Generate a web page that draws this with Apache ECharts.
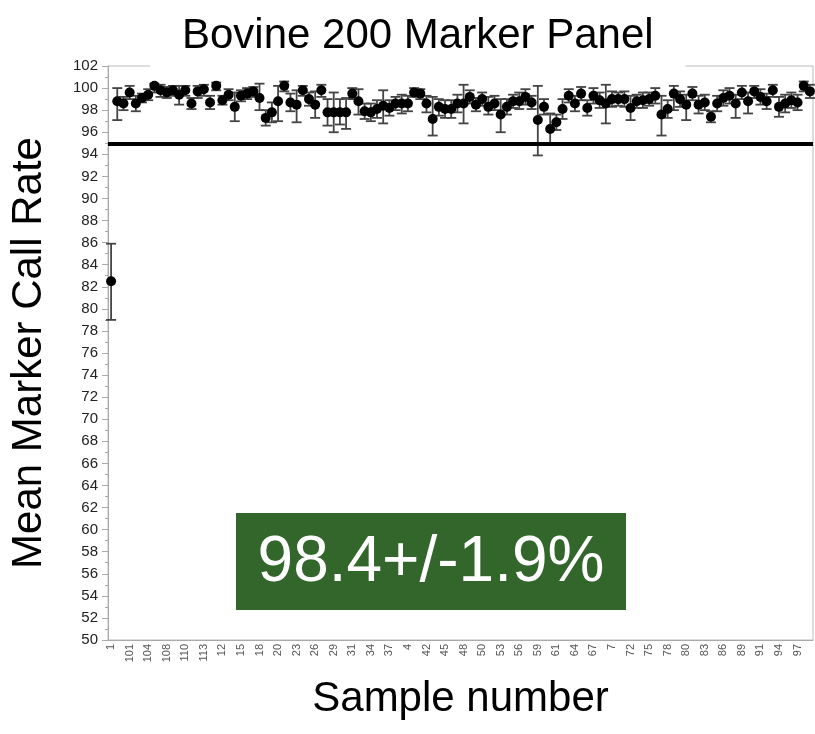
<!DOCTYPE html>
<html>
<head>
<meta charset="utf-8">
<title>Bovine 200 Marker Panel</title>
<script src="https://cdn.jsdelivr.net/npm/echarts@6/dist/echarts.min.js"></script>
<style>
    html, body { margin: 0; padding: 0; background: #fff; }
    #mainChart { width: 815px; height: 734px; }
</style>
</head>
<body>
<div id="mainChart"></div>
<script>
// sample ids, sorted as text (the way the original tool lists them)
var samples = ['1', '10', '100', '101', '102', '103', '104', '105', '107', '108', '109', '11', '110', '111', '112', '113', '114', '115',
    '12', '13', '14', '15', '16', '17', '18', '19', '2', '20', '21', '22', '23', '24', '25', '26', '27', '28', '29', '3', '30',
    '31', '32', '33', '34', '35', '36', '37', '38', '39', '4', '40', '41', '42', '43', '44', '45', '46', '47', '48', '49', '5',
    '50', '51', '52', '53', '54', '55', '56', '57', '58', '59', '6', '60', '61', '62', '63', '64', '65', '66', '67', '68', '69',
    '7', '70', '71', '72', '73', '74', '75', '76', '77', '78', '79', '8', '80', '81', '82', '83', '84', '85', '86', '87', '88',
    '89', '9', '90', '91', '92', '93', '94', '95', '96', '97', '98', '99'];

// mean marker call rate per sample
var meanRate = [82.5, 98.8, 98.6, 99.6, 98.6, 99.1, 99.4, 100.2, 99.8, 99.6, 99.8, 99.4, 99.8, 98.6, 99.7, 99.9, 98.7, 100.2,
    98.9, 99.4, 98.3, 99.3, 99.5, 99.7, 99.1, 97.3, 97.8, 98.8, 100.2, 98.7, 98.5, 99.8, 99.0, 98.5, 99.8, 97.8, 97.8, 97.8, 97.8,
    99.5, 98.8, 97.9, 97.8, 98.1, 98.4, 98.2, 98.6, 98.6, 98.6, 99.6, 99.5, 98.6, 97.2, 98.3, 98.1, 98.1, 98.6, 98.6, 99.2, 98.5,
    99.0, 98.3, 98.6, 97.6, 98.3, 98.8, 98.8, 99.2, 98.7, 97.1, 98.3, 96.3, 96.9, 98.1, 99.3, 98.6, 99.5, 98.2, 99.3, 98.9,
    98.6, 99.0, 99.0, 99.0, 98.2, 98.8, 98.9, 99.0, 99.3, 97.6, 98.1, 99.5, 99.0, 98.5, 99.5, 98.5, 98.7, 97.4, 98.6, 99.1,
    99.3, 98.6, 99.6, 98.8, 99.7, 99.2, 98.8, 99.8, 98.3, 98.6, 98.9, 98.7, 100.2, 99.7];

// error bar ends
var lowRate = [79.0, 97.1, 98.0, 99.0, 97.9, 98.7, 98.9, 99.6, 99.2, 99.1, 99.3, 98.5, 99.3, 98.1, 99.1, 99.3, 98.1, 99.8,
    98.5, 98.9, 97.0, 98.8, 99.0, 99.2, 98.0, 96.6, 96.9, 97.0, 99.7, 97.9, 96.9, 99.3, 98.4, 97.3, 99.2, 96.6, 96.0, 96.7, 96.3,
    99.0, 97.6, 97.2, 97.0, 97.3, 96.8, 97.5, 98.0, 97.7, 97.9, 99.2, 99.0, 97.8, 95.7, 97.5, 97.3, 97.3, 97.8, 96.8, 98.6, 97.9,
    98.4, 97.6, 98.0, 96.0, 97.6, 98.2, 98.1, 98.5, 98.1, 93.9, 97.6, 95.0, 96.2, 97.2, 98.7, 97.9, 98.9, 97.5, 98.6, 98.2,
    96.8, 98.3, 98.4, 98.3, 97.1, 98.2, 98.2, 98.4, 98.6, 95.7, 97.3, 98.0, 98.3, 97.1, 98.9, 97.7, 98.0, 96.9, 97.9, 98.4,
    98.6, 97.3, 99.0, 97.7, 99.1, 98.5, 98.1, 99.2, 97.4, 97.8, 98.2, 98.0, 99.7, 99.1];
var highRate = [85.9, 100.0, 99.2, 100.2, 99.3, 99.5, 99.9, 100.4, 100.3, 100.1, 100.2, 100.2, 100.2, 99.1, 100.2, 100.3, 99.3, 100.5,
    99.3, 99.9, 99.6, 99.8, 100.0, 100.1, 100.4, 98.0, 98.7, 100.2, 100.6, 99.5, 99.8, 100.2, 99.6, 99.7, 100.3, 99.0, 99.6, 99.0, 99.1,
    100.0, 99.9, 98.6, 98.6, 98.9, 99.8, 98.9, 99.2, 99.4, 99.3, 100.0, 99.9, 99.3, 99.2, 99.0, 98.9, 98.9, 99.4, 100.3, 99.8, 99.1,
    99.6, 99.2, 99.3, 99.0, 99.0, 99.4, 99.6, 99.9, 99.3, 100.2, 99.0, 97.7, 97.6, 99.0, 99.9, 99.3, 100.1, 98.9, 100.0, 99.6,
    100.3, 99.7, 99.6, 99.7, 99.3, 99.4, 99.6, 99.6, 100.0, 99.3, 98.9, 100.2, 99.7, 99.4, 100.1, 99.3, 99.4, 97.9, 99.3, 99.8,
    100.0, 99.4, 100.2, 99.6, 100.2, 99.9, 99.5, 100.3, 99.2, 99.4, 99.6, 99.4, 100.6, 100.3];

var cutoff = 95;
var summaryText = '98.4+/-1.9%';

var fontName = 'Liberation Sans, Arial, sans-serif';

var errorData = samples.map(function (s, i) {
    return [i, lowRate[i], highRate[i]];
});

//误差线
function renderErrorBar(params, api) {
    var top = api.coord([api.value(0), api.value(2)]);
    var bottom = api.coord([api.value(0), api.value(1)]);
    var half = 5;
    var style = { stroke: '#444', lineWidth: 1.8, fill: null };
    return {
        type: 'group',
        children: [
            { type: 'line', shape: { x1: top[0], y1: top[1], x2: bottom[0], y2: bottom[1] }, style: style },
            { type: 'line', shape: { x1: top[0] - half, y1: top[1], x2: top[0] + half, y2: top[1] }, style: style },
            { type: 'line', shape: { x1: bottom[0] - half, y1: bottom[1], x2: bottom[0] + half, y2: bottom[1] }, style: style }
        ]
    };
}

var chart = echarts.init(document.getElementById('mainChart'));
var option = {
    backgroundColor: '#fff',
    animation: false,
    textStyle: { fontFamily: fontName },
    title: {
        text: 'Bovine 200 Marker Panel',
        left: 150,
        top: 11,
        padding: [4, 32, 11, 32],
        backgroundColor: '#fff',
        textStyle: {
            fontFamily: fontName,
            fontSize: 42,
            fontWeight: 'normal',
            color: '#000'
        }
    },
    grid: {
        left: 107,
        right: 2,
        top: 66,
        bottom: 94,
        show: true,
        borderColor: '#bbb',
        borderWidth: 1
    },
    xAxis: {
        type: 'category',
        data: samples,
        name: 'Sample number',
        nameLocation: 'middle',
        nameGap: 38,
        nameTextStyle: { fontFamily: fontName, fontSize: 42, color: '#000' },
        axisLine: { lineStyle: { color: '#aaa' } },
        axisTick: { interval: 0, alignWithLabel: true, length: 5, lineStyle: { color: '#aaa' } },
        axisLabel: {
            interval: 2,
            rotate: 90,
            margin: 4,
            fontSize: 11,
            color: '#555'
        },
        splitLine: { show: false }
    },
    yAxis: {
        type: 'value',
        min: 50,
        max: 102,
        interval: 2,
        name: 'Mean Marker Call Rate',
        nameLocation: 'middle',
        nameGap: 58,
        nameTextStyle: { fontFamily: fontName, fontSize: 42, color: '#000' },
        axisLine: { show: true, lineStyle: { color: '#aaa' } },
        axisTick: { show: true, length: 6, lineStyle: { color: '#aaa' } },
        minorTick: { show: true, splitNumber: 2, length: 3, lineStyle: { color: '#aaa' } },
        axisLabel: { fontSize: 15, color: '#222', margin: 10 },
        splitLine: { show: false }
    },
    series: [
        {
            name: 'error',
            type: 'custom',
            renderItem: renderErrorBar,
            data: errorData,
            z: 2,
            silent: true
        },
        {
            name: 'mean',
            type: 'scatter',
            data: meanRate,
            symbolSize: 10,
            itemStyle: { color: '#000', opacity: 1 },
            z: 3,
            markLine: {
                silent: true,
                symbol: 'none',
                label: { show: false },
                lineStyle: { color: '#000', width: 4, type: 'solid', opacity: 1 },
                data: [{ yAxis: cutoff }]
            }
        }
    ],
    graphic: [
        {
            type: 'group',
            left: 236,
            top: 513,
            children: [
                { type: 'rect', shape: { x: 0, y: 0, width: 390, height: 97 }, style: { fill: '#33662b' } },
                {
                    type: 'text',
                    x: 195,
                    y: 50,
                    style: {
                        text: summaryText,
                        fill: '#fff',
                        font: '64px ' + fontName,
                        textAlign: 'center',
                        textVerticalAlign: 'middle'
                    }
                }
            ]
        }
    ]
};

chart.clear()
chart.setOption(option)

window.addEventListener('resize', function () {
    chart.resize();
});
</script>
</body>
</html>
